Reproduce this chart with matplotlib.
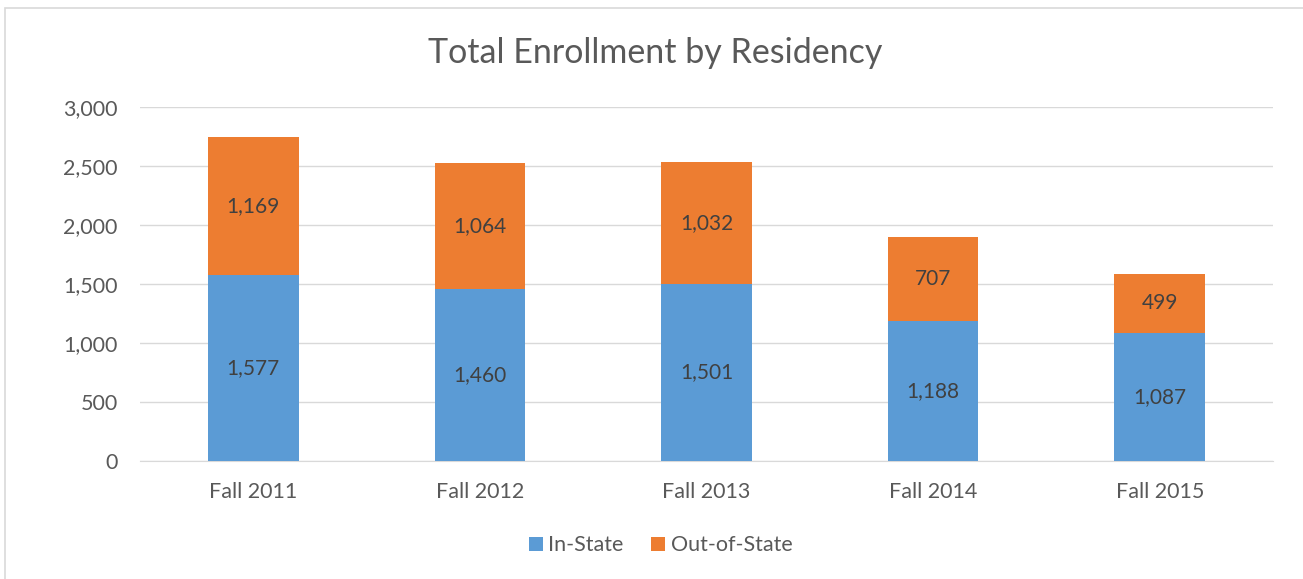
import matplotlib.pyplot as plt
from matplotlib.patches import Rectangle
from matplotlib.ticker import FuncFormatter

years = ['Fall 2011', 'Fall 2012', 'Fall 2013', 'Fall 2014', 'Fall 2015']
in_state = [1577, 1460, 1501, 1188, 1087]
out_of_state = [1169, 1064, 1032, 707, 499]

blue = '#5B9BD5'
orange = '#ED7D31'
text_color = '#595959'

plt.rcParams['font.family'] = ['Lato', 'DejaVu Sans']

fig = plt.figure(figsize=(13.03, 5.79), dpi=100)
ax = fig.add_axes([0.1074, 0.2038, 0.8696, 0.6114])

x = list(range(len(years)))
ax.bar(x, in_state, width=0.4, color=blue, label='In-State', zorder=3)
ax.bar(x, out_of_state, width=0.4, bottom=in_state, color=orange,
       label='Out-of-State', zorder=3)

for i in x:
    ax.text(i, in_state[i] / 2, f'{in_state[i]:,}', ha='center', va='center',
            fontsize=15, color='#404040', zorder=4)
    ax.text(i, in_state[i] + out_of_state[i] / 2, f'{out_of_state[i]:,}',
            ha='center', va='center', fontsize=15, color='#404040', zorder=4)

ax.set_xlim(-0.5, len(years) - 0.5)
ax.set_ylim(0, 3000)
ax.set_yticks(range(0, 3001, 500))
ax.yaxis.set_major_formatter(FuncFormatter(lambda v, p: f'{int(v):,}'))
ax.set_xticks(x)
ax.set_xticklabels(years)
ax.grid(axis='y', color='#D9D9D9', linewidth=1, zorder=0)
for s in ['top', 'right', 'left']:
    ax.spines[s].set_visible(False)
ax.spines['bottom'].set_color('#D9D9D9')
ax.tick_params(axis='both', length=0, labelsize=15.5, colors=text_color)
ax.tick_params(axis='x', pad=15)
ax.tick_params(axis='y', pad=16)

fig.text(0.503, 0.909, 'Total Enrollment by Residency', ha='center', va='center',
         fontsize=24.5, color=text_color)

handles, labels = ax.get_legend_handles_labels()
fig.legend(handles, labels, loc='center', bbox_to_anchor=(0.507, 0.058), ncol=2,
           frameon=False, fontsize=15.5, labelcolor=text_color, handlelength=0.65,
           handleheight=0.65, handletextpad=0.25, columnspacing=1.3)

fig.patches.append(Rectangle((5 / 1303, -0.01), 1.5, 1 - 8 / 579 + 0.01,
                             transform=fig.transFigure, fill=False,
                             edgecolor='#D9D9D9', linewidth=1.2))

fig.savefig('out.png', dpi=100)
